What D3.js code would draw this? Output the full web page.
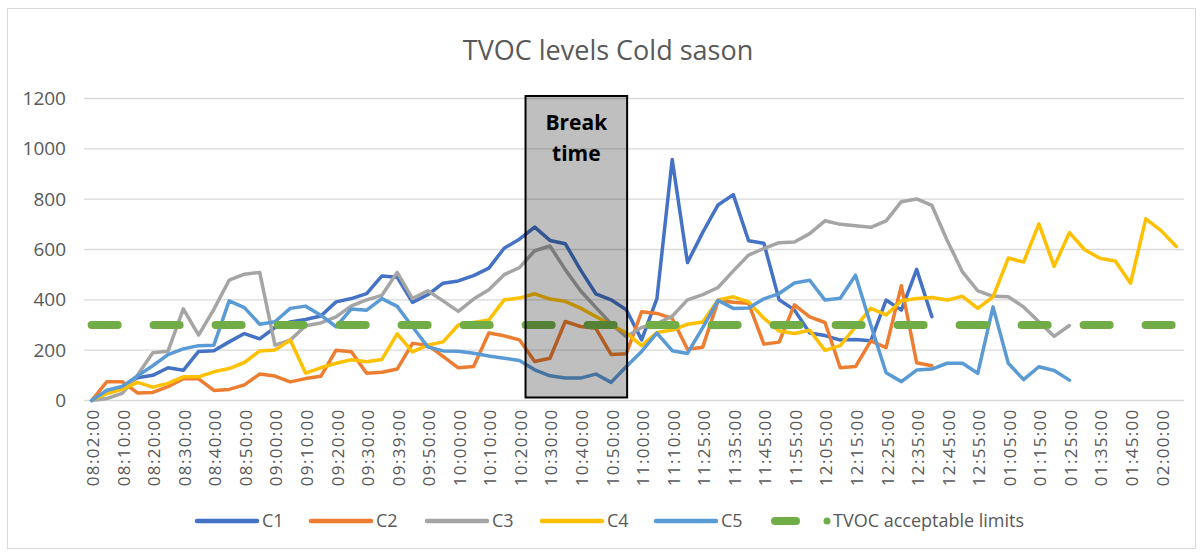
<!DOCTYPE html>
<html>
<head>
<meta charset="utf-8">
<script src="https://cdn.jsdelivr.net/npm/d3@7"></script>
<style>
  body { margin: 0; background: #fff; }
  text { font-family: "Open Sans", sans-serif; }
</style>
</head>
<body>
<svg width="1202" height="554"></svg>
<script>
// categories (labels shown on every 2nd one, like the excel chart)
var categories = [
  "08:02:00", "08:05:00", "08:10:00", "08:15:00", "08:20:00", "08:25:00", "08:30:00", "08:35:00",
  "08:40:00", "08:45:00", "08:50:00", "08:55:00", "09:00:00", "09:05:00", "09:10:00", "09:15:00",
  "09:20:00", "09:25:00", "09:30:00", "09:35:00", "09:39:00", "09:45:00", "09:50:00", "09:55:00",
  "10:00:00", "10:05:00", "10:10:00", "10:15:00", "10:20:00", "10:25:00", "10:30:00", "10:35:00",
  "10:40:00", "10:45:00", "10:50:00", "10:55:00", "11:00:00", "11:05:00", "11:10:00", "11:20:00",
  "11:25:00", "11:30:00", "11:35:00", "11:40:00", "11:45:00", "11:50:00", "11:55:00", "12:00:00",
  "12:05:00", "12:10:00", "12:15:00", "12:20:00", "12:25:00", "12:30:00", "12:35:00", "12:40:00",
  "12:45:00", "12:50:00", "12:55:00", "01:00:00", "01:05:00", "01:10:00", "01:15:00", "01:20:00",
  "01:25:00", "01:30:00", "01:35:00", "01:40:00", "01:45:00", "01:50:00", "02:00:00", "02:05:00"
];

var c1 = [0, 30, 55, 90, 100, 130, 120, 195, 198, 233, 266, 245, 290, 312, 322, 336, 392, 405, 425, 495,
  490, 390, 420, 466, 475, 496, 526, 605, 641, 689, 636, 623, 519, 424, 400, 360, 241, 405, 958, 548,
  668, 777, 818, 635, 625, 400, 360, 268, 258, 240, 242, 237, 399, 359, 521, 333];
var c2 = [0, 75, 75, 30, 32, 55, 87, 86, 40, 44, 62, 105, 97, 74, 87, 96, 200, 194, 108, 112,
  125, 227, 220, 175, 130, 135, 268, 257, 241, 155, 168, 314, 294, 287, 183, 186, 353, 346, 326, 204,
  212, 396, 390, 386, 224, 232, 380, 332, 310, 130, 135, 237, 210, 456, 150, 138];
var c3 = [0, 8, 28, 100, 190, 196, 364, 260, 362, 478, 502, 509, 220, 240, 297, 308, 332, 376, 400, 418,
  509, 405, 436, 396, 354, 403, 440, 500, 528, 595, 614, 520, 436, 370, 305, 254, 290, 305, 335, 400,
  421, 449, 515, 578, 604, 627, 630, 663, 714, 700, 694, 688, 714, 790, 801, 775, 636, 511, 436, 414,
  412, 372, 313, 255, 298];
var c4 = [0, 28, 44, 72, 53, 68, 94, 94, 114, 127, 151, 197, 201, 240, 109, 130, 148, 162, 154, 163,
  265, 193, 220, 233, 300, 310, 320, 400, 407, 424, 403, 394, 367, 334, 301, 268, 218, 270, 280, 303,
  312, 399, 412, 392, 327, 276, 266, 279, 199, 218, 293, 366, 340, 396, 405, 409, 399, 414, 366, 412,
  566, 550, 702, 533, 667, 599, 565, 554, 466, 722, 675, 612];
var c5 = [0, 41, 56, 98, 138, 182, 205, 218, 220, 396, 369, 303, 313, 366, 375, 339, 293, 364, 359, 405,
  374, 293, 213, 197, 196, 188, 177, 168, 159, 122, 98, 89, 89, 105, 72, 135, 195, 268, 198, 187,
  290, 398, 366, 368, 404, 425, 467, 478, 399, 406, 498, 300, 110, 75, 121, 125, 148, 148, 108, 372,
  148, 83, 134, 119, 81];
var tvocLimit = 300;

var seriesNames = ["C1", "C2", "C3", "C4", "C5"];
var seriesColors = ["#4472C4", "#ED7D31", "#A5A5A5", "#FFC000", "#5B9BD5"];
var limitName = "TVOC acceptable limits";
var limitColor = "#70AD47";
var yTicks = [0, 200, 400, 600, 800, 1000, 1200];

// break time spans these category positions (fractional index)
var breakFrom = 28.4, breakTo = 35.05;

var svg = d3.select("svg");

svg.append("rect")
  .attr("width", 1202).attr("height", 554).attr("fill", "#fff");
svg.append("rect")
  .attr("x", 7.5).attr("y", 8.5).attr("width", 1188).attr("height", 540)
  .attr("fill", "none").attr("stroke", "#D9D9D9");

var x = d3.scalePoint().domain(categories).range([84, 1184]).padding(0.5),
  y = d3.scaleLinear().domain([0, 1200]).range([400.5, 98.5]);

// index -> pixel, used for the break box
var xi = d3.scaleLinear().domain([0, categories.length - 1])
  .range([x(categories[0]), x(categories[categories.length - 1])]);

svg.append("text")
  .attr("x", 608).attr("y", 60)
  .attr("text-anchor", "middle")
  .style("font-size", "27px")
  .attr("fill", "#595959")
  .text("TVOC levels Cold sason");

// gridlines
svg.selectAll("line.grid")
  .data(yTicks)
  .enter().append("line")
  .attr("class", "grid")
  .attr("x1", 84).attr("x2", 1184)
  .attr("y1", function(d) { return y(d); })
  .attr("y2", function(d) { return y(d); })
  .attr("stroke", "#D9D9D9")
  .attr("stroke-width", 1.4);

svg.selectAll("text.ylab")
  .data(yTicks)
  .enter().append("text")
  .attr("class", "ylab")
  .attr("x", 66)
  .attr("y", function(d) { return y(d); })
  .attr("dy", "0.35em")
  .attr("text-anchor", "end")
  .attr("fill", "#595959")
  .style("font-size", "19px")
  .text(function(d) { return d; });

// x axis
var xAxis = svg.append("g")
  .attr("transform", "translate(0," + y(0) + ")")
  .call(d3.axisBottom(x)
    .tickValues(categories.filter(function(d, i) { return i % 2 == 0; }))
    .tickSize(0));
xAxis.select(".domain").remove();
xAxis.selectAll("text")
  .attr("transform", "rotate(-90)")
  .attr("text-anchor", "end")
  .attr("x", -8)
  .attr("y", 1)
  .attr("dy", "0.35em")
  .attr("fill", "#595959")
  .style("font-family", "'Open Sans', sans-serif")
  .style("font-size", "17px")
  .style("letter-spacing", "1.3px");

var line = d3.line()
  .x(function(d, i) { return x(categories[i]); })
  .y(function(d) { return y(d); });

var allSeries = [c1, c2, c3, c4, c5];
svg.selectAll("path.series")
  .data(allSeries)
  .enter().append("path")
  .attr("class", "series")
  .attr("d", function(d) { return line(d); })
  .attr("fill", "none")
  .attr("stroke", function(d, i) { return seriesColors[i]; })
  .attr("stroke-width", 3.5)
  .attr("stroke-linejoin", "round")
  .attr("stroke-linecap", "round");

// acceptable limit
svg.append("line")
  .attr("x1", x(categories[0])).attr("x2", x(categories[categories.length - 1]))
  .attr("y1", y(tvocLimit)).attr("y2", y(tvocLimit))
  .attr("stroke", limitColor)
  .attr("stroke-width", 8)
  .attr("stroke-linecap", "round")
  .attr("stroke-dasharray", "26 36");

// break time box
svg.append("rect")
  .attr("x", xi(breakFrom))
  .attr("y", y(1210))
  .attr("width", xi(breakTo) - xi(breakFrom))
  .attr("height", y(12) - y(1210))
  .attr("fill", "rgba(0,0,0,0.25)")
  .attr("stroke", "#000")
  .attr("stroke-width", 2);

svg.selectAll("text.brk")
  .data(["Break", "time"])
  .enter().append("text")
  .attr("class", "brk")
  .attr("x", (xi(breakFrom) + xi(breakTo)) / 2)
  .attr("y", function(d, i) { return 130 + i * 31; })
  .attr("text-anchor", "middle")
  .style("font-size", "21px")
  .style("font-weight", "bold")
  .attr("fill", "#000")
  .text(function(d) { return d; });

// legend
var legendX = [197, 311, 427, 542, 656];
var legendY = 521;
var lg = svg.selectAll("g.leg")
  .data(seriesNames)
  .enter().append("g")
  .attr("class", "leg")
  .attr("transform", function(d, i) { return "translate(" + legendX[i] + "," + legendY + ")"; });
lg.append("line")
  .attr("x1", 0).attr("x2", 60)
  .attr("stroke", function(d, i) { return seriesColors[i]; })
  .attr("stroke-width", 4.5)
  .attr("stroke-linecap", "round");
lg.append("text")
  .attr("x", 65).attr("dy", "0.35em")
  .attr("fill", "#595959")
  .style("font-size", "18px")
  .text(function(d) { return d; });

var lim = svg.append("g").attr("transform", "translate(771," + legendY + ")");
lim.append("line")
  .attr("x1", 4).attr("x2", 25)
  .attr("stroke", limitColor).attr("stroke-width", 8)
  .attr("stroke-linecap", "round");
lim.append("circle")
  .attr("cx", 56).attr("r", 3.5).attr("fill", limitColor);
lim.append("text")
  .attr("x", 62).attr("dy", "0.35em")
  .attr("fill", "#595959")
  .style("font-size", "18px")
  .text(limitName);
</script>
</body>
</html>
